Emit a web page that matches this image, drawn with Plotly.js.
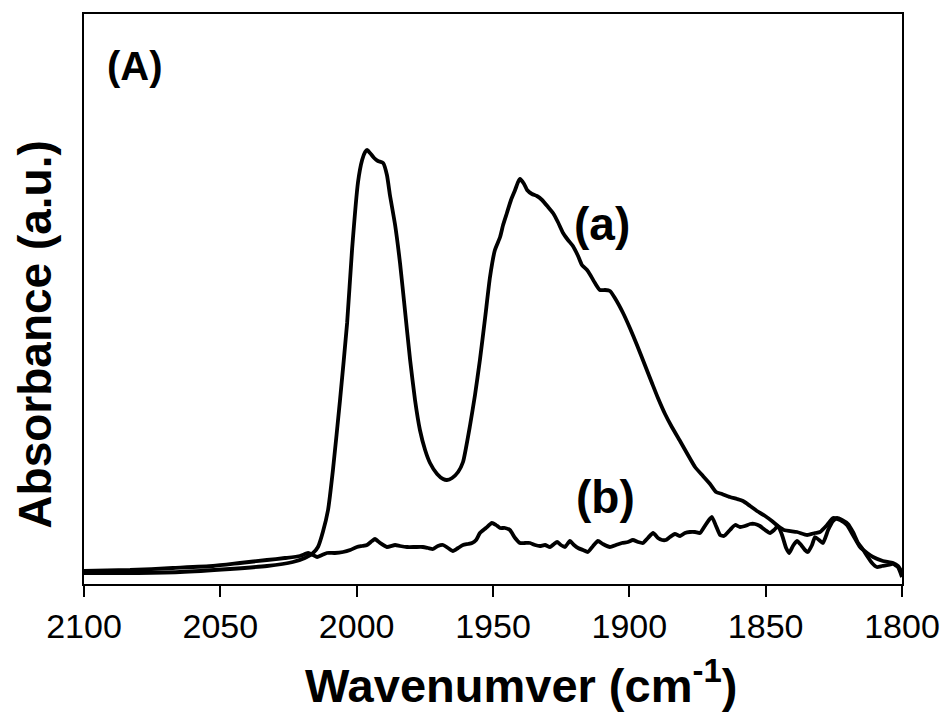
<!DOCTYPE html>
<html>
<head>
<meta charset="utf-8">
<script src="https://cdn.plot.ly/plotly-3.0.1.min.js"></script>
<style>html,body{margin:0;padding:0;background:#fff;}#chart{width:949px;height:713px;}</style>
</head>
<body>
<div id="chart"></div>
<script>
// Curve (a): wavenumber (cm-1) and absorbance (a.u.)
const waveA = [2100,2083.1,2064.8,2046.5,2032.9,2023.4,2019.0,2016.0,2014.2,2012.4,2010.5,2008.7,2006.1,2003.5,2001.7,1999.5,1998.0,1996.9,1996.2,1995.1,1993.6,1992.2,1990.3,1988.9,1987.8,1985.9,1984.1,1982.3,1980.4,1978.6,1976.8,1974.9,1973.1,1970.5,1968.3,1966.9,1965.0,1962.8,1961.0,1958.4,1956.6,1954.8,1952.9,1951.1,1949.3,1947.4,1946.3,1944.9,1943.4,1941.9,1940.8,1940.1,1938.6,1937.5,1935.7,1933.9,1932.0,1929.8,1928.0,1926.2,1924.3,1922.5,1920.7,1918.8,1917.4,1915.5,1914.1,1912.6,1910.8,1908.9,1907.1,1905.3,1902.3,1899.8,1897.2,1894.3,1891.7,1889.5,1886.9,1884.4,1881.4,1878.5,1875.9,1873.0,1870.4,1868.2,1866.0,1863.1,1860.5,1858.3,1855.7,1853.2,1850.2,1847.7,1845.5,1843.3,1838.5,1834.8,1831.9,1830.1,1827.5,1825.3,1822.7,1820.2,1818.0,1815.4,1812.8,1810.6,1807.0,1803.3,1801.5,1800];
const absA = [0.011,0.011,0.012,0.015,0.018,0.022,0.026,0.031,0.037,0.052,0.074,0.114,0.184,0.261,0.334,0.402,0.424,0.432,0.434,0.431,0.426,0.423,0.421,0.409,0.389,0.359,0.321,0.274,0.224,0.184,0.154,0.134,0.121,0.110,0.105,0.104,0.106,0.112,0.122,0.159,0.189,0.224,0.266,0.307,0.334,0.347,0.359,0.371,0.384,0.394,0.402,0.405,0.400,0.394,0.390,0.388,0.384,0.377,0.371,0.362,0.351,0.344,0.338,0.328,0.319,0.314,0.308,0.301,0.294,0.294,0.293,0.286,0.271,0.256,0.239,0.219,0.201,0.186,0.170,0.157,0.143,0.129,0.117,0.108,0.100,0.092,0.090,0.087,0.085,0.083,0.078,0.073,0.068,0.063,0.058,0.054,0.052,0.049,0.051,0.052,0.059,0.066,0.064,0.059,0.049,0.037,0.031,0.027,0.023,0.021,0.018,0.012];

// Curve (b)
const waveB = [2100,2083.1,2067.4,2052.7,2042.8,2032.9,2026.3,2020.8,2017.8,2016.0,2014.5,2012.7,2010.9,2008.0,2005.0,2002.4,1999.9,1998.0,1996.2,1994.4,1993.3,1991.4,1988.9,1985.9,1984.1,1981.5,1978.6,1975.7,1973.8,1972.0,1970.2,1968.3,1966.5,1964.7,1962.8,1961.0,1959.2,1957.7,1956.2,1954.8,1952.6,1950.4,1948.9,1947.4,1945.6,1943.8,1941.9,1940.1,1938.3,1936.4,1934.6,1932.8,1930.9,1929.1,1927.6,1926.5,1925.1,1923.6,1921.8,1920.3,1918.8,1917.0,1915.2,1913.3,1911.5,1909.7,1907.1,1904.9,1902.7,1900.5,1898.7,1896.8,1895.0,1893.2,1891.3,1889.5,1888.0,1886.6,1885.1,1883.3,1881.4,1879.6,1877.8,1875.9,1874.1,1872.3,1870.8,1869.7,1868.2,1866.7,1865.3,1863.1,1861.2,1859.4,1857.6,1855.7,1853.9,1852.1,1850.2,1848.4,1846.9,1845.5,1844.0,1842.5,1841.4,1840.0,1838.5,1837.0,1835.6,1834.5,1833.0,1831.9,1830.4,1829.0,1827.1,1825.3,1823.8,1822.0,1819.8,1818.0,1816.1,1814.7,1812.8,1811.0,1809.2,1807.3,1805.1,1803.3,1801.5,1800];
const absB = [0.013,0.014,0.016,0.018,0.021,0.024,0.026,0.028,0.031,0.029,0.027,0.029,0.031,0.031,0.032,0.034,0.037,0.038,0.039,0.043,0.045,0.041,0.037,0.039,0.038,0.037,0.037,0.037,0.036,0.035,0.038,0.039,0.036,0.033,0.036,0.039,0.040,0.041,0.044,0.051,0.056,0.061,0.059,0.056,0.056,0.054,0.046,0.041,0.041,0.041,0.039,0.038,0.039,0.037,0.040,0.042,0.039,0.037,0.043,0.039,0.036,0.034,0.032,0.038,0.043,0.040,0.037,0.039,0.041,0.042,0.044,0.042,0.041,0.046,0.051,0.046,0.044,0.044,0.047,0.050,0.048,0.051,0.052,0.052,0.051,0.058,0.064,0.067,0.058,0.049,0.048,0.054,0.059,0.057,0.058,0.060,0.060,0.058,0.054,0.051,0.054,0.058,0.049,0.036,0.031,0.038,0.043,0.039,0.034,0.032,0.039,0.047,0.044,0.041,0.054,0.063,0.066,0.064,0.060,0.052,0.041,0.036,0.028,0.021,0.017,0.018,0.019,0.020,0.017,0.007];

const xTicks = [2100,2050,2000,1950,1900,1850,1800];
const xTickText = ['2100','2050','2000','1950','1900','1850','1800'];

const FONT = 'Liberation Sans, Arial, sans-serif';
const lineStyle = {color:'#000', width:3.8, shape:'spline', smoothing:0.5};

const traces = [
  {x: waveA, y: absA, type:'scatter', mode:'lines', line: lineStyle, name:'(a)', hoverinfo:'x+y'},
  {x: waveB, y: absB, type:'scatter', mode:'lines', line: lineStyle, name:'(b)', hoverinfo:'x+y'}
];

const layout = {
  width: 949, height: 713,
  margin: {l:84, r:47, t:14, b:129},
  paper_bgcolor:'#fff', plot_bgcolor:'#fff',
  showlegend:false,
  font:{family:FONT, color:'#000'},
  xaxis: {
    range:[2100,1800], autorange:false,
    tickvals:xTicks, ticktext:xTickText,
    ticks:'outside', ticklen:11, tickwidth:2, tickcolor:'#000',
    showline:true, linewidth:2, linecolor:'#000', mirror:true,
    showgrid:false, zeroline:false,
    tickfont:{family:FONT, size:34, color:'#000'}
  },
  yaxis: {
    range:[0,0.57], autorange:false,
    showticklabels:false, ticks:'',
    showline:true, linewidth:2, linecolor:'#000', mirror:true,
    showgrid:false, zeroline:false
  },
  annotations: [
    {xref:'paper', yref:'paper', x:0.534, y:-0.172, text:'Wavenumver (cm<sup>-1</sup>)', showarrow:false, xanchor:'center', yanchor:'middle', font:{family:FONT, size:47, color:'#000', weight:'bold'}},
    {xref:'paper', yref:'paper', x:-0.06, y:0.439, text:'Absorbance (a.u.)', textangle:-90, showarrow:false, xanchor:'center', yanchor:'middle', font:{family:FONT, size:46, color:'#000', weight:'bold'}},
    {xref:'paper', yref:'paper', x:0.0623, y:0.908, text:'(A)', showarrow:false, xanchor:'center', yanchor:'middle', font:{family:FONT, size:40, color:'#000', weight:'bold'}},
    {xref:'paper', yref:'paper', x:0.633, y:0.632, text:'(a)', showarrow:false, xanchor:'center', yanchor:'middle', font:{family:FONT, size:46, color:'#000', weight:'bold'}},
    {xref:'paper', yref:'paper', x:0.637, y:0.152, text:'(b)', showarrow:false, xanchor:'center', yanchor:'middle', font:{family:FONT, size:46, color:'#000', weight:'bold'}}
  ]
};

Plotly.newPlot('chart', traces, layout, {displayModeBar:false, staticPlot:true});
</script>
</body>
</html>
